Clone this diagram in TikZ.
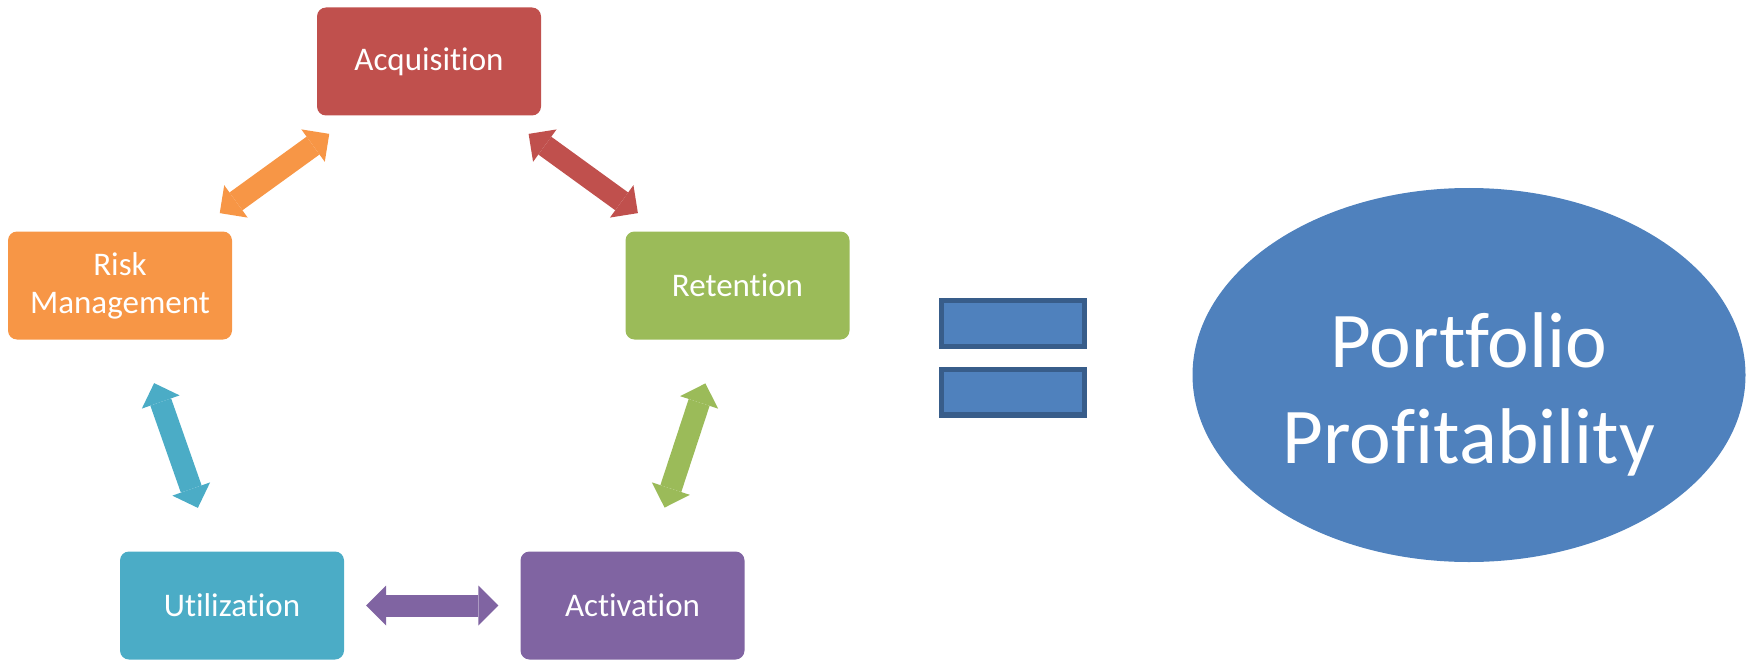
\documentclass[tikz,border=0pt]{standalone}
\usepackage{fontspec}
\setmainfont{Carlito}[Ligatures={NoCommon,NoDiscretionary,NoRare}]
\usepackage{tikz}
\usetikzlibrary{arrows.meta,shapes.geometric}
\definecolor{acqred}{HTML}{C0504D}
\definecolor{riskorange}{HTML}{F79646}
\definecolor{retgreen}{HTML}{9BBB59}
\definecolor{utilcyan}{HTML}{4BACC6}
\definecolor{actpurple}{HTML}{8064A2}
\definecolor{ovalblue}{HTML}{4F81BD}
\definecolor{edgeblue}{HTML}{385D8A}
\tikzset{
  box/.style={rounded corners=9pt,minimum width=224pt,minimum height=108pt,inner sep=0pt,align=center,text=white,font=\fontsize{33}{38}\selectfont},
  fat/.style={line width=22pt,{Triangle[length=20pt,width=40pt,line width=0pt]}-{Triangle[length=20pt,width=40pt,line width=0pt]}},
  eqbar/.style={draw=edgeblue,fill=ovalblue,line width=5.3pt,minimum width=142.7pt,minimum height=45.7pt,inner sep=0pt},
  oval/.style={ellipse,fill=ovalblue,minimum width=553pt,minimum height=374pt,inner sep=0pt},
  ovaltext/.style={align=center,text=white,inner sep=0pt,font=\fontsize{79}{96}\selectfont}
}
\begin{document}
\begin{tikzpicture}[x=1pt,y=-1pt]
\useasboundingbox (0,0) rectangle (1752,663);
\node[box,fill=acqred] (acq) at (429,61.5) {Acquisition};
\node[box,fill=riskorange] (risk) at (120,285.5) {Risk\\Management};
\node[box,fill=retgreen] (ret) at (737.5,285.5) {Retention};
\node[box,fill=utilcyan] (util) at (232,605.5) {Utilization};
\node[box,fill=actpurple] (act) at (632.5,605.5) {Activation};
\draw[fat,riskorange,shorten <=31pt,shorten >=31pt] (risk) -- (acq);
\draw[fat,acqred,shorten <=31pt,shorten >=31pt] (acq) -- (ret);
\draw[fat,retgreen,shorten <=46pt,shorten >=46pt] (ret) -- (act);
\draw[fat,actpurple,shorten <=22pt,shorten >=22pt] (act) -- (util);
\draw[fat,utilcyan,shorten <=46pt,shorten >=46pt] (util) -- (risk);
\node[eqbar] (eqtop) at (1013,323.5) {};
\node[eqbar] (eqbot) at (1013,392) {};
\node[oval] (profit) at (1469,375) {};
\node[ovaltext] (profittext) at ([yshift=-19pt]profit.center) {Portfolio\\Profitability};
\end{tikzpicture}
\end{document}
